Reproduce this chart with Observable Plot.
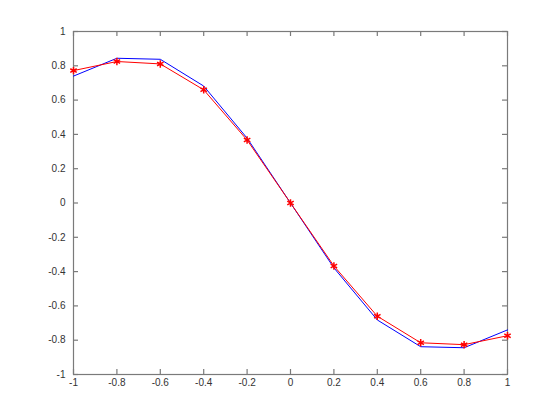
<!DOCTYPE html>
<html>
<head>
<meta charset="utf-8">
<script src="https://cdn.jsdelivr.net/npm/d3@7"></script>
<script src="https://cdn.jsdelivr.net/npm/@observablehq/plot@0.6"></script>
<style>
  html, body { margin: 0; padding: 0; background: #fff; }
  #chart { width: 560px; height: 420px; }
</style>
</head>
<body>
<div id="chart"></div>
<script>
const xs = [-1, -0.8, -0.6, -0.4, -0.2, 0, 0.2, 0.4, 0.6, 0.8, 1];
const blueY = [0.74, 0.844, 0.838, 0.682, 0.378, 0, -0.378, -0.682, -0.838, -0.844, -0.74];
const redY = [0.772, 0.825, 0.811, 0.66, 0.367, 0, -0.367, -0.66, -0.815, -0.826, -0.774];
const xTicks = [-1, -0.8, -0.6, -0.4, -0.2, 0, 0.2, 0.4, 0.6, 0.8, 1];
const yTicks = [-1, -0.8, -0.6, -0.4, -0.2, 0, 0.2, 0.4, 0.6, 0.8, 1];

const blue = xs.map((x, i) => ({x, y: blueY[i]}));
const red = xs.map((x, i) => ({x, y: redY[i]}));
const fmt = d => d === 0 ? "0" : String(d);
const axisColor = "#7a7a7a";
const labelColor = "#333";

const W = 560, H = 420, mL = 73, mR = 53, mT = 31, mB = 46;
const plotW = W - mL - mR, plotH = H - mT - mB, tick = 5;

const chart = Plot.plot({
  width: W,
  height: H,
  marginLeft: mL,
  marginRight: mR,
  marginTop: mT,
  marginBottom: mB,
  style: {fontFamily: "'Liberation Sans', Helvetica, Arial, sans-serif", fontSize: "10px", background: "#fff"},
  x: {domain: [-1, 1]},
  y: {domain: [-1, 1]},
  marks: [
    Plot.frame({stroke: axisColor, strokeWidth: 1.2}),
    // inward tick marks on all four sides
    Plot.tickX(xTicks, {x: d => d, insetTop: plotH - tick, stroke: axisColor, strokeWidth: 1.2}),
    Plot.tickX(xTicks, {x: d => d, insetBottom: plotH - tick, stroke: axisColor, strokeWidth: 1.2}),
    Plot.tickY(yTicks, {y: d => d, insetRight: plotW - tick, stroke: axisColor, strokeWidth: 1.2}),
    Plot.tickY(yTicks, {y: d => d, insetLeft: plotW - tick, stroke: axisColor, strokeWidth: 1.2}),
    Plot.axisX(xTicks, {anchor: "bottom", tickSize: 0, tickPadding: 4, fill: labelColor, tickFormat: fmt, label: null}),
    Plot.axisY(yTicks, {anchor: "left", tickSize: 0, tickPadding: 8, fill: labelColor, tickFormat: fmt, label: null}),
    Plot.line(blue, {x: "x", y: "y", stroke: "#0000ff", strokeWidth: 1}),
    Plot.line(red, {x: "x", y: "y", stroke: "#ff0000", strokeWidth: 1}),
    Plot.dot(red, {x: "x", y: "y", symbol: "asterisk", r: 3.5, stroke: "#ff0000", strokeWidth: 1.5})
  ]
});
document.getElementById("chart").appendChild(chart);
</script>
</body>
</html>
